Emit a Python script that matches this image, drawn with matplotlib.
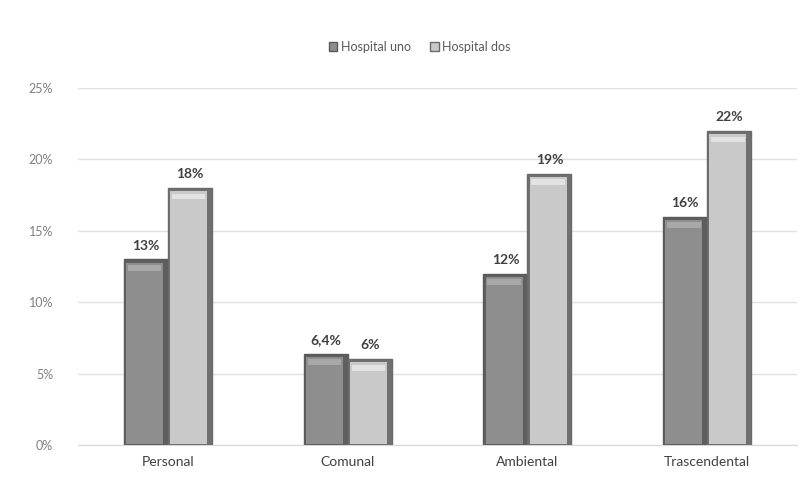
import matplotlib
matplotlib.use("Agg")
import matplotlib.pyplot as plt
from matplotlib.patches import Patch
import numpy as np

categories = ["Personal", "Comunal", "Ambiental", "Trascendental"]
series_names = ["Hospital uno", "Hospital dos"]
hospital_uno = [13, 6.4, 12, 16]
hospital_dos = [18, 6, 19, 22]
labels_uno = ["13%", "6,4%", "12%", "16%"]
labels_dos = ["18%", "6%", "19%", "22%"]
yticks = [0, 5, 10, 15, 20, 25]
ytick_labels = ["0%", "5%", "10%", "15%", "20%", "25%"]

plt.rcParams['font.family'] = ['Lato', 'DejaVu Sans']

fig = plt.figure(figsize=(8.07, 4.92), dpi=100)
ax = fig.add_axes([0.0967, 0.0955, 0.8909, 0.7255])

x = np.arange(len(categories))
w = 0.245
colors = ["#8e8e8e", "#c9c9c9"]
edge = ["#5a5a5a", "#6a6a6a"]
side = ["#5e5e5e", "#707070"]
hl = ["#a8a8a8", "#e2e2e2"]
offsets = [-w / 2, w / 2]
data = [hospital_uno, hospital_dos]
labels = [labels_uno, labels_dos]

for i in range(2):
    vals = np.array(data[i])
    # outer bar (dark bevel sides)
    ax.bar(x + offsets[i], vals, w, color=side[i], edgecolor=edge[i],
           linewidth=1.0, zorder=3, label=series_names[i])
    # inner face
    ax.bar(x + offsets[i] - w * 0.03, vals - 0.3, w * 0.84, bottom=0.08,
           color=colors[i], edgecolor='none', zorder=4)
    # top highlight band
    ax.bar(x + offsets[i] - w * 0.03, np.full(len(vals), 0.4), w * 0.76,
           bottom=vals - 0.8, color=hl[i], edgecolor='none', zorder=5)
    for xi, v, t in zip(x + offsets[i], vals, labels[i]):
        ax.text(xi, v + 0.55, t, ha='center', va='bottom', fontsize=10,
                fontweight='bold', color='#404040', zorder=6)

ax.set_xlim(-0.5, len(categories) - 0.5)
ax.set_ylim(0, 25)
ax.set_yticks(yticks)
ax.set_yticklabels(ytick_labels, fontsize=9, color='#7f7f7f')
ax.set_xticks(x)
ax.set_xticklabels(categories, fontsize=10, color='#404040')
ax.tick_params(axis='both', length=0)
ax.tick_params(axis='y', pad=18)
ax.tick_params(axis='x', pad=8)
ax.grid(axis='y', color='#e0e0e0', linewidth=1, zorder=0)
for s in ['top', 'right', 'left']:
    ax.spines[s].set_visible(False)
ax.spines['bottom'].set_color('#d9d9d9')

handles = [Patch(facecolor=colors[0], edgecolor=edge[0]),
           Patch(facecolor=colors[1], edgecolor=edge[1])]
fig.legend(handles, series_names, loc='center', bbox_to_anchor=(0.52, 0.905),
           ncol=2, frameon=False, fontsize=9, handlelength=0.7, handleheight=0.7,
           handletextpad=0.3, columnspacing=1.5, labelcolor='#595959')

fig.savefig("out.png", dpi=100)
